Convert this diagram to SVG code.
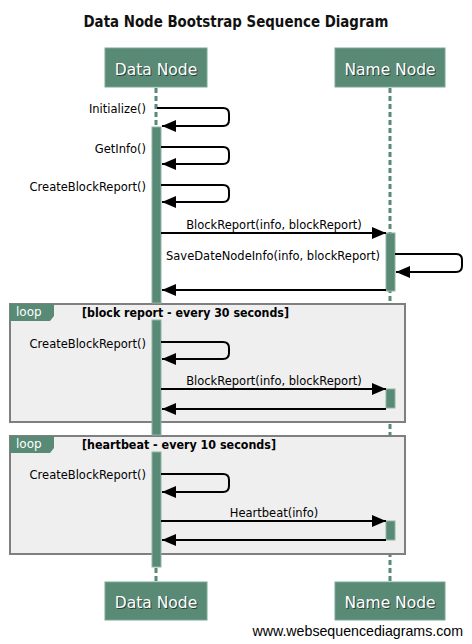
<svg xmlns="http://www.w3.org/2000/svg" width="472" height="644" viewBox="0 0 472 644">
<defs>
<style>
.t{font-family:"DejaVu Sans",Verdana,sans-serif;font-size:11.5px;fill:#000}
.ttl{font-family:"DejaVu Sans",Verdana,sans-serif;font-size:15px;font-weight:bold;fill:#111}
.pt{font-family:"DejaVu Sans",Verdana,sans-serif;font-size:15.5px;fill:#fff}
.ps{font-family:"DejaVu Sans",Verdana,sans-serif;font-size:15.5px;fill:#2b3f36}
.box{fill:#588a75;stroke:#7aa896;stroke-width:1}
.life{stroke:#588a75;stroke-width:3;stroke-dasharray:5 3;fill:none}
.act{fill:#588a75;stroke:#8fb4a5;stroke-width:1}
.msg{stroke:#000;stroke-width:2;fill:none}
.frame{fill:#efefef;stroke:#7f7f7f;stroke-width:2}
.tab{fill:#588a75}
.lt{font-family:"DejaVu Sans",Verdana,sans-serif;font-size:12px;fill:#fff}
.cond{font-family:"DejaVu Sans",Verdana,sans-serif;font-size:11.5px;font-weight:bold;fill:#000}
.foot{font-family:"Liberation Sans",Arial,sans-serif;font-size:14.2px;fill:#000}
</style>
<marker id="ah" viewBox="0 0 14 12" refX="14" refY="6" markerWidth="14" markerHeight="12" markerUnits="userSpaceOnUse" orient="auto">
<path d="M0,0 L14,6 L0,12 Z" fill="#000"/>
</marker>
</defs>
<rect width="472" height="644" fill="#fff"/>
<text class="ttl" x="236" y="27" text-anchor="middle" textLength="305" lengthAdjust="spacingAndGlyphs">Data Node Bootstrap Sequence Diagram</text>

<g id="lifelines">
<line class="life" x1="156" y1="88" x2="156" y2="581"/>
<line class="life" x1="390" y1="88" x2="390" y2="581"/>
</g>

<g id="loop1">
<rect class="frame" x="10" y="304" width="395" height="118"/>
<path class="tab" d="M10,304 H54 V316 L50,321 H10 Z"/>
<text class="lt" x="16" y="316">loop</text>
<text class="cond" x="82" y="317" textLength="207" lengthAdjust="spacingAndGlyphs">[block report - every 30 seconds]</text>
</g>
<g id="loop2">
<rect class="frame" x="10" y="436" width="395" height="118"/>
<path class="tab" d="M10,436 H54 V448 L50,453 H10 Z"/>
<text class="lt" x="16" y="448">loop</text>
<text class="cond" x="82" y="449" textLength="194" lengthAdjust="spacingAndGlyphs">[heartbeat - every 10 seconds]</text>
</g>

<g id="activations">
<rect class="act" x="152" y="127" width="9" height="176"/>
<rect class="act" x="152" y="320" width="9" height="115"/>
<rect class="act" x="152" y="452" width="9" height="115"/>
<rect class="act" x="386" y="233" width="9" height="58"/>
<rect class="act" x="386" y="389" width="9" height="19"/>
<rect class="act" x="386" y="521" width="9" height="19"/>
</g>

<g id="data-node-top">
<rect class="box" x="105" y="48" width="102" height="39"/>
<text class="ps" x="157" y="76" text-anchor="middle">Data Node</text>
<text class="pt" x="156" y="75" text-anchor="middle">Data Node</text>
</g>
<g id="name-node-top">
<rect class="box" x="335" y="48" width="110" height="39"/>
<text class="ps" x="391" y="76" text-anchor="middle">Name Node</text>
<text class="pt" x="390" y="75" text-anchor="middle">Name Node</text>
</g>
<g id="data-node-bottom">
<rect class="box" x="105" y="582" width="102" height="38"/>
<text class="ps" x="157" y="609" text-anchor="middle">Data Node</text>
<text class="pt" x="156" y="608" text-anchor="middle">Data Node</text>
</g>
<g id="name-node-bottom">
<rect class="box" x="335" y="582" width="110" height="38"/>
<text class="ps" x="391" y="609" text-anchor="middle">Name Node</text>
<text class="pt" x="390" y="608" text-anchor="middle">Name Node</text>
</g>

<g id="connectors">
<path class="msg" d="M157,108 H223 Q229,108 229,114 V120 Q229,126 223,126 H162" marker-end="url(#ah)"/>
<path class="msg" d="M161,147 H223 Q229,147 229,153 V158 Q229,164 223,164 H162" marker-end="url(#ah)"/>
<path class="msg" d="M161,185 H223 Q229,185 229,191 V196 Q229,202 223,202 H162" marker-end="url(#ah)"/>
<path class="msg" d="M161,233 H386" marker-end="url(#ah)"/>
<path class="msg" d="M395,254 H456 Q462,254 462,260 V266 Q462,272 456,272 H396" marker-end="url(#ah)"/>
<path class="msg" d="M386,290 H162" marker-end="url(#ah)"/>
<path class="msg" d="M161,342 H223 Q229,342 229,348 V353 Q229,359 223,359 H162" marker-end="url(#ah)"/>
<path class="msg" d="M161,389 H386" marker-end="url(#ah)"/>
<path class="msg" d="M386,409 H162" marker-end="url(#ah)"/>
<path class="msg" d="M161,474 H223 Q229,474 229,480 V486 Q229,492 223,492 H162" marker-end="url(#ah)"/>
<path class="msg" d="M161,521 H386" marker-end="url(#ah)"/>
<path class="msg" d="M386,540 H162" marker-end="url(#ah)"/>
</g>

<g id="labels">
<text class="t" x="146" y="113" text-anchor="end">Initialize()</text>
<text class="t" x="146" y="153" text-anchor="end">GetInfo()</text>
<text class="t" x="146" y="191" text-anchor="end">CreateBlockReport()</text>
<text class="t" x="274" y="229" text-anchor="middle">BlockReport(info, blockReport)</text>
<text class="t" x="273" y="260" text-anchor="middle">SaveDateNodeInfo(info, blockReport)</text>
<text class="t" x="146" y="348" text-anchor="end">CreateBlockReport()</text>
<text class="t" x="274" y="385" text-anchor="middle">BlockReport(info, blockReport)</text>
<text class="t" x="146" y="479" text-anchor="end">CreateBlockReport()</text>
<text class="t" x="274" y="517" text-anchor="middle">Heartbeat(info)</text>
</g>

<text class="foot" x="463" y="636" text-anchor="end">www.websequencediagrams.com</text>
</svg>
